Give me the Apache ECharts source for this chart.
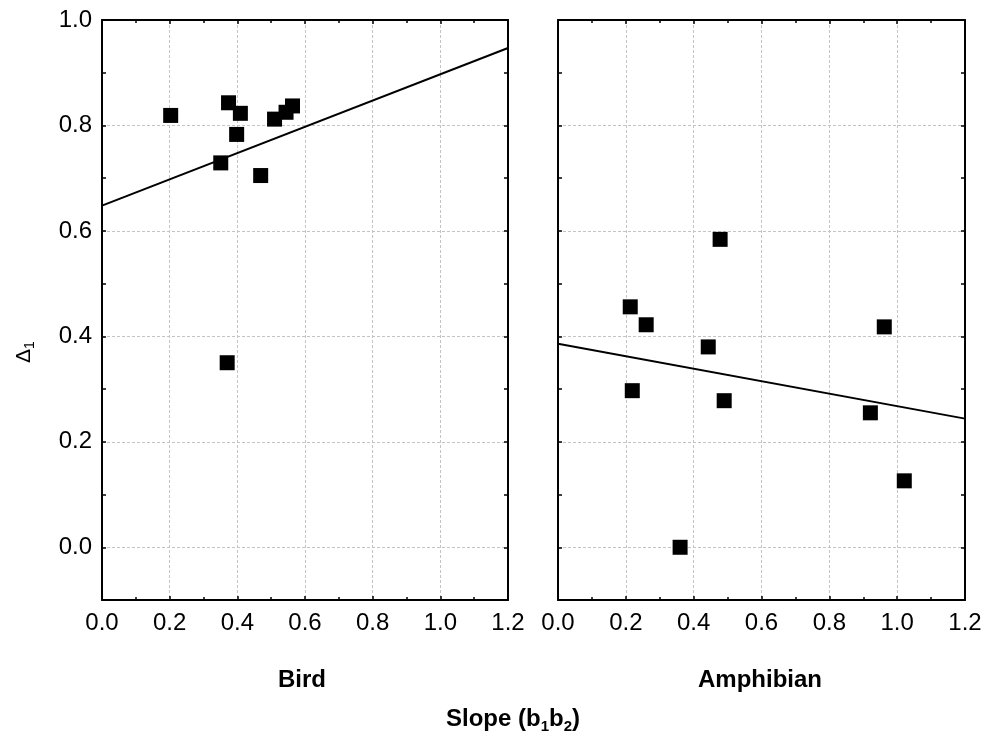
<!DOCTYPE html>
<html>
<head>
<meta charset="utf-8">
<script src="https://cdn.jsdelivr.net/npm/echarts@6/dist/echarts.min.js"></script>
<style>
html,body{margin:0;padding:0;background:#fff;}
#chart{width:991px;height:738px;}
</style>
</head>
<body>
<div id="chart"></div>
<script>
// ---- data ----
const panelNames = ['Bird', 'Amphibian'];
const birdX = [0.203, 0.374, 0.409, 0.398, 0.351, 0.469, 0.510, 0.544, 0.563, 0.370];
const birdY = [0.819, 0.843, 0.823, 0.783, 0.729, 0.705, 0.812, 0.825, 0.837, 0.350];
const amphX = [0.213, 0.260, 0.962, 0.443, 0.219, 0.490, 0.921, 1.021, 0.360, 0.478];
const amphY = [0.456, 0.422, 0.418, 0.380, 0.297, 0.278, 0.255, 0.126, 0.000, 0.584];
const birdFitX = [0, 1.2];
const birdFitY = [0.648, 0.947];
const amphFitX = [0, 1.2];
const amphFitY = [0.386, 0.244];
const yGridValues = [0.0, 0.2, 0.4, 0.6, 0.8, 1.0];
const xMin = 0, xMax = 1.2, xStep = 0.2;
const yMin = -0.1, yMax = 1.0, yStep = 0.1;

const FONT = '"Liberation Sans", Arial, Helvetica, sans-serif';
const pair = (xs, ys) => xs.map((x, i) => [x, ys[i]]);

const chart = echarts.init(document.getElementById('chart'), null, {renderer: 'canvas'});

const gridLine = {color: '#c4c4c4', width: 1, type: [3, 2]};
const axLine = {show: true, onZero: false, lineStyle: {color: '#000', width: 2}};

function xAxisDef(grid, pos, showLabel) {
  return {
    type: 'value', gridIndex: grid, position: pos,
    min: xMin, max: xMax, interval: xStep,
    axisLine: axLine,
    axisTick: {show: true, inside: true, length: 4, lineStyle: {color: '#000', width: 1.5}},
    minorTick: {show: true, splitNumber: 2, length: 3, lineStyle: {color: '#000', width: 1.5}},
    axisLabel: {
      show: showLabel, margin: 11, color: '#000', fontSize: 24, fontFamily: FONT,
      formatter: v => v.toFixed(1)
    },
    splitLine: {show: pos === 'bottom', lineStyle: gridLine},
    minorSplitLine: {show: false}
  };
}
function yAxisDef(grid, pos, showLabel) {
  return {
    type: 'value', gridIndex: grid, position: pos,
    min: yMin, max: yMax, interval: yStep,
    axisLine: axLine,
    axisTick: {show: true, inside: true, length: 4, lineStyle: {color: '#000', width: 1.5}},
    axisLabel: {
      show: showLabel, margin: 10, color: '#000', fontSize: 24, fontFamily: FONT,
      formatter: v => (Math.round(v * 10) % 2 === 0 ? v.toFixed(1) : '')
    },
    splitLine: {show: false}
  };
}

function panelSeries(idx, xs, ys, fx, fy) {
  return [
    {
      type: 'line', xAxisIndex: idx * 2, yAxisIndex: idx * 2, data: [], z: 0, silent: true,
      markLine: {
        silent: true, symbol: ['none', 'none'], animation: false, z: 0,
        label: {show: false}, lineStyle: gridLine,
        emphasis: {disabled: true},
        data: yGridValues.map(v => ({yAxis: v}))
      }
    },
    {
      type: 'line', xAxisIndex: idx * 2, yAxisIndex: idx * 2, data: pair(fx, fy),
      showSymbol: false, symbol: 'none', lineStyle: {color: '#000', width: 2}, z: 2, silent: true
    },
    {
      type: 'scatter', xAxisIndex: idx * 2, yAxisIndex: idx * 2, data: pair(xs, ys),
      symbol: 'rect', symbolSize: 15, itemStyle: {color: '#000', opacity: 1}, z: 3
    }
  ];
}

const option = {
  animation: false,
  backgroundColor: '#fff',
  grid: [
    {left: 102, top: 20, width: 406, height: 580, containLabel: false},
    {left: 558, top: 20, width: 407, height: 580, containLabel: false}
  ],
  xAxis: [
    xAxisDef(0, 'bottom', true), xAxisDef(0, 'top', false),
    xAxisDef(1, 'bottom', true), xAxisDef(1, 'top', false)
  ],
  yAxis: [
    yAxisDef(0, 'left', true), yAxisDef(0, 'right', false),
    yAxisDef(1, 'left', false), yAxisDef(1, 'right', false)
  ],
  series: [].concat(
    panelSeries(0, birdX, birdY, birdFitX, birdFitY),
    panelSeries(1, amphX, amphY, amphFitX, amphFitY)
  ),
  graphic: [
    {
      type: 'text', x: 302, y: 680,
      style: {text: panelNames[0], font: 'bold 24px ' + FONT, fill: '#000', align: 'center', verticalAlign: 'middle'}
    },
    {
      type: 'text', x: 760, y: 680,
      style: {text: panelNames[1], font: 'bold 24px ' + FONT, fill: '#000', align: 'center', verticalAlign: 'middle'}
    },
    {
      type: 'text', x: 513, y: 719,
      style: {
        text: '{m|Slope (b}{s|1}{m|b}{s|2}{m|)}',
        align: 'center', verticalAlign: 'middle',
        rich: {
          m: {font: 'bold 24px ' + FONT, fill: '#000', lineHeight: 30, verticalAlign: 'middle'},
          s: {font: 'bold 15px ' + FONT, fill: '#000', verticalAlign: 'bottom'}
        }
      }
    },
    {
      type: 'text', x: 24, y: 352, rotation: Math.PI / 2,
      style: {
        text: '{m|Δ}{s|1}',
        align: 'center', verticalAlign: 'middle',
        rich: {
          m: {font: '21px ' + FONT, fill: '#000', lineHeight: 26, verticalAlign: 'middle'},
          s: {font: '14px ' + FONT, fill: '#000', verticalAlign: 'bottom'}
        }
      }
    }
  ]
};
chart.setOption(option);
</script>
</body>
</html>
